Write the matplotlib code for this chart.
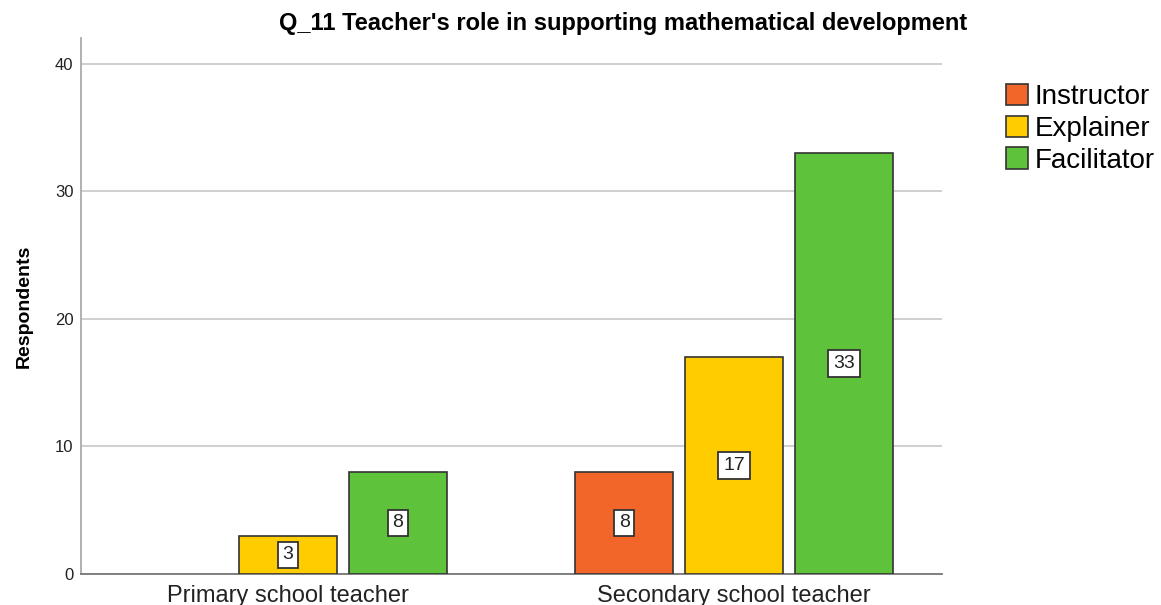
import numpy as np
import matplotlib.pyplot as plt
from matplotlib.patches import Patch

plt.rcParams['font.family'] = ['Liberation Sans', 'DejaVu Sans']

groups = ['Primary school teacher', 'Secondary school teacher']
roles = ['Instructor', 'Explainer', 'Facilitator']
counts = {
    'Instructor': [0, 8],
    'Explainer': [3, 17],
    'Facilitator': [8, 33],
}
colors = ['#F26729', '#FFCC00', '#5EC23A']
yticks = [0, 10, 20, 30, 40]

fig = plt.figure(figsize=(11.61, 6.05), dpi=100)
ax = fig.add_axes([0.0698, 0.0512, 0.7416, 0.8858])

x = np.arange(len(groups))
step = 0.2466
width = 0.2197
for i, role in enumerate(roles):
    pos = x + (i - 1) * step
    vals = counts[role]
    for p, v in zip(pos, vals):
        if v == 0:
            continue
        ax.bar(p, v, width, color=colors[i], edgecolor='#333333', linewidth=1.2, zorder=3)
        ax.text(p, v / 2, str(v), ha='center', va='center', fontsize=14, color='#222222',
                zorder=4, bbox=dict(boxstyle='square,pad=0.25', fc='white', ec='#333333', lw=1.3))

ax.set_xlim(-0.464, 1.466)
ax.set_ylim(0, 42)
ax.set_yticks(yticks)
ax.set_xticks(x)
ax.set_xticklabels(groups, fontsize=17, color='#222222')
ax.tick_params(axis='both', length=0)
ax.tick_params(axis='y', labelsize=12, pad=5.5, colors='#222222')
ax.tick_params(axis='x', pad=8)
ax.yaxis.grid(True, color='#CCCCCC', linewidth=1.3, zorder=0)
ax.set_axisbelow(True)
for s in ['top', 'right']:
    ax.spines[s].set_visible(False)
ax.spines['left'].set_color('#AAAAAA')
ax.spines['left'].set_linewidth(1.3)
ax.spines['bottom'].set_color('#777777')
ax.spines['bottom'].set_linewidth(1.3)

ax.set_ylabel('Respondents', fontsize=14, fontweight='bold', labelpad=16)
ax.set_title("Q_11 Teacher's role in supporting mathematical development",
             fontsize=17, fontweight='bold', pad=6, x=0.63)

handles = [Patch(facecolor=c, edgecolor='#333333', linewidth=1.2, label=r) for c, r in zip(colors, roles)]
fig.legend(handles=handles, loc='upper left', bbox_to_anchor=(0.8565, 0.88), frameon=False,
           fontsize=20, handlelength=0.8, handleheight=0.8, handletextpad=0.25, labelspacing=0.2,
           borderaxespad=0)

fig.savefig('out.png', dpi=100)
